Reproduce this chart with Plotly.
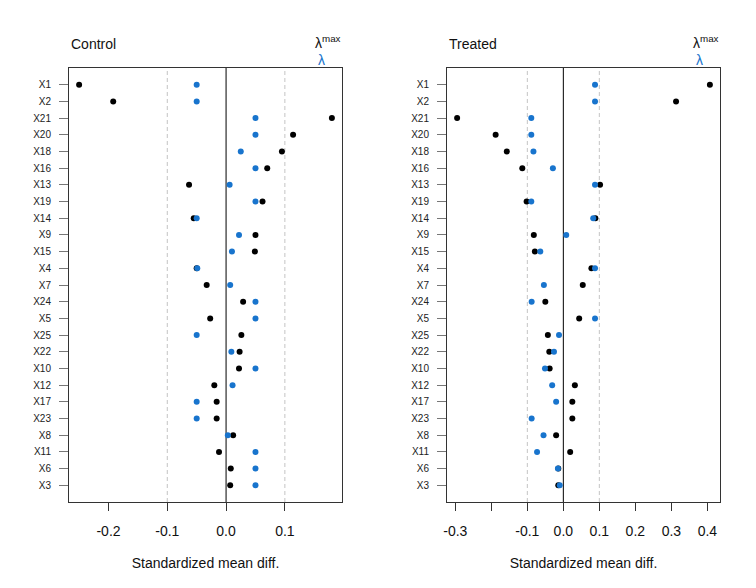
import plotly.graph_objects as go
from plotly.subplots import make_subplots

covariates = ["X1", "X2", "X21", "X20", "X18", "X16", "X13", "X19", "X14", "X9",
              "X15", "X4", "X7", "X24", "X5", "X25", "X22", "X10", "X12", "X17",
              "X23", "X8", "X11", "X6", "X3"]

control_max = [-0.250, -0.192, 0.180, 0.114, 0.095, 0.070, -0.063, 0.062, -0.055, 0.050,
               0.049, -0.050, -0.033, 0.029, -0.027, 0.026, 0.023, 0.022, -0.020, -0.016,
               -0.016, 0.012, -0.012, 0.008, 0.007]
control_lam = [-0.050, -0.050, 0.050, 0.050, 0.025, 0.050, 0.006, 0.050, -0.050, 0.022,
               0.010, -0.049, 0.007, 0.050, 0.050, -0.050, 0.009, 0.050, 0.011, -0.050,
               -0.050, 0.003, 0.050, 0.050, 0.050]

treated_max = [0.407, 0.313, -0.295, -0.188, -0.157, -0.114, 0.102, -0.102, 0.089, -0.082,
               -0.079, 0.078, 0.054, -0.050, 0.044, -0.043, -0.039, -0.038, 0.032, 0.025,
               0.025, -0.020, 0.019, -0.014, -0.014]
treated_lam = [0.088, 0.088, -0.089, -0.089, -0.083, -0.029, 0.088, -0.089, 0.083, 0.008,
               -0.064, 0.088, -0.054, -0.088, 0.088, -0.012, -0.026, -0.051, -0.031, -0.020,
               -0.088, -0.055, -0.073, -0.015, -0.010]

BLUE = "#1874CD"
FONT = "Liberation Sans, Arial, sans-serif"

# page body has an 8px margin, so the figure is a bit smaller than the window
W, H, OFF = 740, 572, 8


def px_x(p):
    return (p - OFF) / W


def px_y(p):
    return 1 - (p - OFF) / H


n = len(covariates)
rows = list(range(n, 0, -1))  # X1 at top

fig = make_subplots(rows=1, cols=2, horizontal_spacing=0.14)

panels = [
    (1, control_max, control_lam, [-0.2, -0.1, 0.0, 0.1], ["-0.2", "-0.1", "0.0", "0.1"]),
    (2, treated_max, treated_lam, [-0.3, -0.2, -0.1, 0.0, 0.1, 0.2, 0.3, 0.4],
     ["-0.3", "", "-0.1", "0.0", "0.1", "0.2", "0.3", "0.4"]),
]

for col, vmax, vlam, tv, tt in panels:
    lo, hi = min(vmax + vlam), max(vmax + vlam)
    pad = 0.04 * (hi - lo)
    fig.add_trace(go.Scatter(x=vmax, y=rows, mode="markers",
                             marker=dict(color="black", size=6),
                             hoverinfo="x+text", text=covariates), row=1, col=col)
    fig.add_trace(go.Scatter(x=vlam, y=rows, mode="markers",
                             marker=dict(color=BLUE, size=6),
                             hoverinfo="x+text", text=covariates), row=1, col=col)
    fig.add_vline(x=0, line=dict(color="black", width=1), row=1, col=col, layer="below")
    for v in (-0.1, 0.1):
        fig.add_vline(x=v, line=dict(color="#c4c4c4", width=1, dash="4px,3px"),
                      row=1, col=col, layer="below")
    fig.update_xaxes(range=[lo - pad, hi + pad], tickvals=tv, ticktext=tt,
                     row=1, col=col)

fig.update_xaxes(showgrid=False, zeroline=False, showline=True, mirror=True,
                 linecolor="#333333", linewidth=1, ticks="outside", ticklen=8,
                 tickcolor="#333333", ticklabelstandoff=8, automargin=False,
                 tickfont=dict(size=14, color="#111111"),
                 title=dict(text="Standardized mean diff.", font=dict(size=14, color="#111111"),
                            standoff=20))
fig.update_yaxes(showgrid=False, zeroline=False, showline=True, mirror=True,
                 linecolor="#333333", linewidth=1, ticks="outside", ticklen=9,
                 tickcolor="#777777", range=[0, n + 1], tickvals=rows, ticktext=covariates,
                 ticklabelstandoff=6, automargin=False,
                 tickfont=dict(size=10, color="#222222"))

fig.update_layout(
    xaxis=dict(domain=[px_x(69), px_x(342)]),
    xaxis2=dict(domain=[px_x(447), px_x(720)]),
    yaxis=dict(domain=[px_y(502), px_y(68)]),
    yaxis2=dict(domain=[px_y(502), px_y(68)]),
    width=W, height=H,
    margin=dict(l=0, r=0, t=0, b=0),
    paper_bgcolor="white", plot_bgcolor="white",
    font=dict(family=FONT, color="#111111"),
    showlegend=False,
)

for title, x0, x1 in [("Control", 69, 342), ("Treated", 447, 720)]:
    fig.add_annotation(text=title, x=px_x(x0), y=px_y(44), xref="paper", yref="paper",
                       xanchor="left", yanchor="middle", showarrow=False,
                       font=dict(size=14, color="#111111"))
    fig.add_annotation(text="λ<sup>max</sup>", x=px_x(x1 + 1), y=px_y(42),
                       xref="paper", yref="paper", xanchor="right", yanchor="middle",
                       showarrow=False, font=dict(size=14, color="#111111"))
    fig.add_annotation(text="λ", x=px_x(x1 - 21), y=px_y(60), xref="paper", yref="paper",
                       xanchor="center", yanchor="middle", showarrow=False,
                       font=dict(size=14, color=BLUE))

fig.write_html("out.html")
